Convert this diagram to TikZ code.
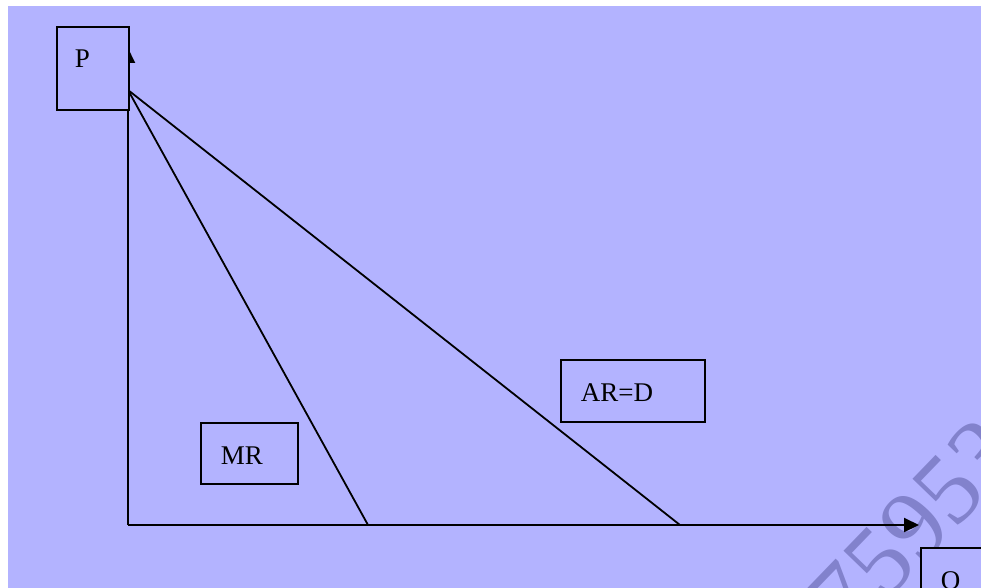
\documentclass[tikz,border=0pt]{standalone}
\usepackage{fontspec}
\setmainfont{Liberation Serif}
\usetikzlibrary{arrows.meta}
\definecolor{bg}{RGB}{179,179,255}
\definecolor{wm}{RGB}{130,130,204}
\begin{document}
\begin{tikzpicture}[x=1pt,y=-1pt,
  boxst/.style={draw=black,line width=2pt,fill=bg,inner sep=0pt,anchor=north west},
  txt/.style={font=\fontsize{27}{30}\selectfont,inner sep=0pt,anchor=base},
  ax/.style={line width=2pt,-{Triangle[length=15pt,width=14pt]}},
  ln/.style={line width=1.8pt},
  wmst/.style={font=\fontsize{100}{100}\selectfont,text=wm,inner sep=0pt,rotate=46}]
\useasboundingbox (0,0) rectangle (981,588);
\fill[white] (0,0) rectangle (981,588);
\begin{scope}
\clip (0,0) rectangle (981,588);
\fill[bg] (8,6) rectangle (981,588);
% watermark
\node[wmst] (wmark) at (914,526) {75953};
% axes
\coordinate (O) at (128,525);
\coordinate (Ptip) at (128,48);
\coordinate (Qtip) at (919,525);
\coordinate (A) at (128,90);
\coordinate (M) at (368,525);
\coordinate (D) at (680,525);
\draw[ax] (O) -- (Ptip);
\draw[ax] (O) -- (Qtip);
\draw[ln] (A) -- (M);
\draw[ln] (A) -- (D);
% boxes
\node[boxst,minimum width=72pt,minimum height=83pt] (pbox) at (56,26) {};
\node[txt] (ptxt) at (82.5,68) {P};
\node[boxst,minimum width=97pt,minimum height=61pt] (mrbox) at (200,422) {};
\node[txt] (mrtxt) at (242,464) {MR};
\node[boxst,minimum width=144pt,minimum height=62pt] (arbox) at (560,359) {};
\node[txt] (artxt) at (617,401) {AR=D};
\node[boxst,minimum width=80pt,minimum height=60pt] (qbox) at (920,547) {};
\node[txt] (qtxt) at (950.5,589) {Q};
\end{scope}
\end{tikzpicture}
\end{document}
